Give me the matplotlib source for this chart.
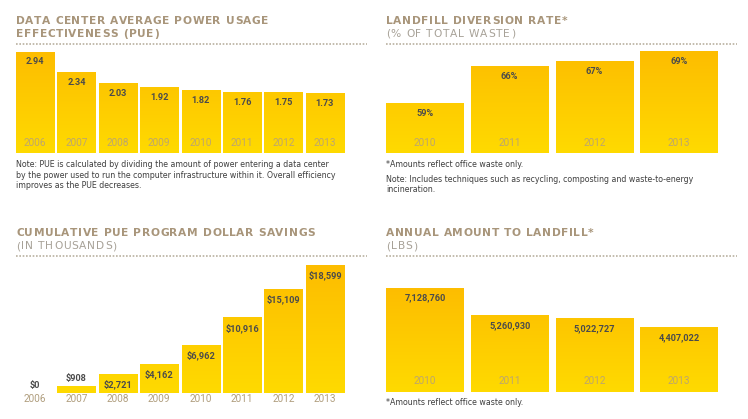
import matplotlib.pyplot as plt
import numpy as np
from matplotlib.colors import LinearSegmentedColormap
from matplotlib.lines import Line2D
from matplotlib.font_manager import FontProperties, findfont, get_font

# dati
anni_pue = ['2006', '2007', '2008', '2009', '2010', '2011', '2012', '2013']
valori_pue = [2.94, 2.34, 2.03, 1.92, 1.82, 1.76, 1.75, 1.73]
etichette_pue = ['2.94', '2.34', '2.03', '1.92', '1.82', '1.76', '1.75', '1.73']

anni_rifiuti = ['2010', '2011', '2012', '2013']
tasso_diversione = [59, 66, 67, 69]
etichette_diversione = ['59%', '66%', '67%', '69%']

risparmi = [0, 908, 2721, 4162, 6962, 10916, 15109, 18599]
etichette_risparmi = ['$0', '$908', '$2,721', '$4,162', '$6,962', '$10,916', '$15,109', '$18,599']

discarica = [7128760, 5260930, 5022727, 4407022]
etichette_discarica = ['7,128,760', '5,260,930', '5,022,727', '4,407,022']

W, H = 748, 419
fig = plt.figure(figsize=(W / 100, H / 100), dpi=100)
fig.patch.set_facecolor('white')

TITOLO = '#a8957a'
SOTTOTITOLO = '#a7a197'
VALORE = '#4b4b4b'
ANNO = '#bca66e'
NOTA = '#3f3f3f'

giallo = LinearSegmentedColormap.from_list('giallo', ['#ffda00', '#fdbd00'])
stile_valore = dict(ha='center', va='center', fontsize=6.6, fontweight='bold',
                    color=VALORE, family='Roboto')
stile_anno = dict(ha='center', va='center', fontsize=7.2, family='Roboto')


def box(l, t, r, b):
    return [l / W, 1 - b / H, (r - l) / W, (b - t) / H]


def fx(x):
    return x / W


def fy(y):
    return 1 - y / H


def spaziato(x, y, testo, size, peso, colore, track):
    # testo con spaziatura tra le lettere (x, y, track in pixel)
    prop = FontProperties(family='DejaVu Sans', weight=peso, size=size)
    font = get_font(findfont(prop))
    font.set_size(size, 100)
    for c in testo:
        avanzo = font.load_char(ord(c)).linearHoriAdvance / 65536
        if c != ' ':
            fig.text(fx(x + avanzo / 2), fy(y), c, fontproperties=prop, color=colore,
                     va='center', ha='center')
        x += avanzo + track


def barre(ax, valori, base, cima, larghezza=0.92):
    for i, v in enumerate(valori):
        if v <= base:
            continue
        frac = (v - base) / (cima - base)
        grad = np.linspace(0, frac, 60).reshape(-1, 1)
        ax.imshow(grad, cmap=giallo, vmin=0, vmax=1, origin='lower',
                  extent=(i - larghezza / 2, i + larghezza / 2, base, v),
                  aspect='auto', interpolation='bilinear')
    ax.set_xlim(-0.46, len(valori) - 0.54)
    ax.set_ylim(base, cima)
    ax.axis('off')


def titolo(x, y, riga1, riga2, riga2_bold):
    spaziato(x, y, riga1, 7.7, 'bold', TITOLO, 0.6)
    if riga2_bold:
        spaziato(x, y + 13, riga2, 7.7, 'bold', TITOLO, 0.6)
    else:
        spaziato(x, y + 13, riga2, 7.7, 'normal', SOTTOTITOLO, 0.8)


def puntini(x0, x1, y):
    fig.add_artist(Line2D([fx(x0), fx(x1)], [fy(y), fy(y)], color='#b9b09f',
                          linewidth=1.2, linestyle=(0, (1, 1))))


def nota(x, y, testo):
    fig.text(fx(x), fy(y), testo, color=NOTA, fontsize=5.7, va='center', ha='left',
             family='DejaVu Sans')


# 1. PUE
ax1 = fig.add_axes(box(16, 52, 344, 153))
barre(ax1, valori_pue, 0, 2.94)
for i, v in enumerate(valori_pue):
    ax1.annotate(etichette_pue[i], (i, v), xytext=(0, -10), textcoords='offset pixels',
                 **stile_valore)
    ax1.annotate(anni_pue[i], (i, 0), xytext=(0, 10), textcoords='offset pixels',
                 color=ANNO, **stile_anno)
titolo(16, 21, 'DATA CENTER AVERAGE POWER USAGE', 'EFFECTIVENESS (PUE)', True)
puntini(16, 367, 44)
nota(16, 164, 'Note: PUE is calculated by dividing the amount of power entering a data center')
nota(16, 175, 'by the power used to run the computer infrastructure within it. Overall efficiency')
nota(16, 185, 'improves as the PUE decreases.')

# 2. diversione discarica
ax2 = fig.add_axes(box(386, 51, 718, 153))
barre(ax2, tasso_diversione, 49.75, 69, larghezza=0.915)
for i, v in enumerate(tasso_diversione):
    ax2.annotate(etichette_diversione[i], (i, v), xytext=(0, -10), textcoords='offset pixels',
                 **stile_valore)
    ax2.annotate(anni_rifiuti[i], (i, 49.75), xytext=(0, 10), textcoords='offset pixels',
                 color=ANNO, **stile_anno)
titolo(386, 21, 'LANDFILL DIVERSION RATE*', '(% OF TOTAL WASTE)', False)
puntini(386, 737, 44)
nota(386, 164, '*Amounts reflect office waste only.')
nota(386, 179, 'Note: Includes techniques such as recycling, composting and waste-to-energy')
nota(386, 189, 'incineration.')

# 3. risparmi cumulativi
ax3 = fig.add_axes(box(16, 265, 344, 393))
barre(ax3, risparmi, 0, 18599)
for i, v in enumerate(risparmi):
    if v < 2000:
        off = 8
    else:
        off = -10
    ax3.annotate(etichette_risparmi[i], (i, v), xytext=(0, off), textcoords='offset pixels',
                 **stile_valore)
    ax3.annotate(anni_pue[i], (i, 0), xytext=(0, -6), textcoords='offset pixels',
                 color='#b09e7e', annotation_clip=False, **stile_anno)
titolo(16, 233, 'CUMULATIVE PUE PROGRAM DOLLAR SAVINGS', '(IN THOUSANDS)', False)
puntini(16, 367, 256)

# 4. quantità in discarica
ax4 = fig.add_axes(box(386, 288, 718, 392))
barre(ax4, discarica, 0, 7128760, larghezza=0.915)
for i, v in enumerate(discarica):
    ax4.annotate(etichette_discarica[i], (i, v), xytext=(0, -10), textcoords='offset pixels',
                 **stile_valore)
    ax4.annotate(anni_rifiuti[i], (i, 0), xytext=(0, 11), textcoords='offset pixels',
                 color=ANNO, **stile_anno)
titolo(386, 233, 'ANNUAL AMOUNT TO LANDFILL*', '(LBS)', False)
puntini(386, 737, 256)
nota(386, 402, '*Amounts reflect office waste only.')

fig.savefig('out.png', dpi=100, facecolor='white')
